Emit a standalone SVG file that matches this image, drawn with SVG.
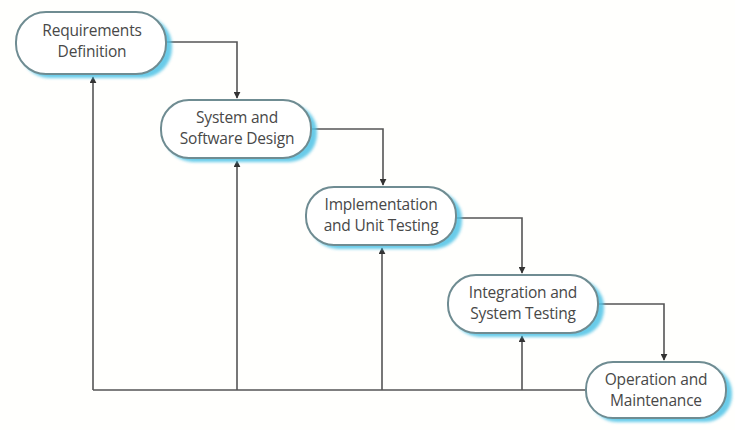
<svg xmlns="http://www.w3.org/2000/svg" width="735" height="430" viewBox="0 0 735 430">
<defs>
<style>
.box{fill:#ffffff;stroke:#6f8c92;stroke-width:2}
.shadow{fill:#4fc3e6;opacity:0.85}
.lbl{font-family:"Open Sans","Liberation Sans",sans-serif;font-size:15.5px;fill:#484848;text-anchor:middle;letter-spacing:-0.2px}
.ln{fill:none;stroke:#555;stroke-width:1.6}
</style>
<marker id="ah" viewBox="0 0 10 10" refX="9" refY="5" markerWidth="7" markerHeight="7" orient="auto" markerUnits="userSpaceOnUse">
<path d="M0,0 L10,5 L0,10 z" fill="#333"/>
</marker>
<filter id="blur" x="-10%" y="-20%" width="120%" height="140%"><feGaussianBlur stdDeviation="1.5"/></filter>
</defs>
<rect width="735" height="430" fill="#fffffd"/>
<g id="connectors">
<path class="ln" d="M166,42 H237 V98" marker-end="url(#ah)"/>
<path class="ln" d="M311,129 H383 V185" marker-end="url(#ah)"/>
<path class="ln" d="M456,218 H522 V273" marker-end="url(#ah)"/>
<path class="ln" d="M598,304 H664 V360" marker-end="url(#ah)"/>
<path class="ln" d="M586,390 H93"/>
<path class="ln" d="M93,390 V77" marker-end="url(#ah)"/>
<path class="ln" d="M237,390 V161" marker-end="url(#ah)"/>
<path class="ln" d="M382,390 V248" marker-end="url(#ah)"/>
<path class="ln" d="M522,390 V336" marker-end="url(#ah)"/>
</g>
<g id="n1">
<rect class="shadow" filter="url(#blur)" x="20" y="16" width="152" height="62" rx="30"/>
<rect class="box" x="16" y="12" width="150" height="62" rx="30"/>
<text class="lbl" x="92" y="36">Requirements</text>
<text class="lbl" x="92" y="57">Definition</text>
</g>
<g id="n2">
<rect class="shadow" filter="url(#blur)" x="165" y="104" width="152" height="58" rx="28"/>
<rect class="box" x="161" y="100" width="150" height="58" rx="28"/>
<text class="lbl" x="237" y="123">System and</text>
<text class="lbl" x="237" y="144">Software Design</text>
</g>
<g id="n3">
<rect class="shadow" filter="url(#blur)" x="310" y="191" width="152" height="58" rx="28"/>
<rect class="box" x="306" y="187" width="150" height="58" rx="28"/>
<text class="lbl" x="381" y="210">Implementation</text>
<text class="lbl" x="381" y="231">and Unit Testing</text>
</g>
<g id="n4">
<rect class="shadow" filter="url(#blur)" x="452" y="279" width="152" height="58" rx="28"/>
<rect class="box" x="448" y="275" width="150" height="58" rx="28"/>
<text class="lbl" x="523" y="298">Integration and</text>
<text class="lbl" x="523" y="319">System Testing</text>
</g>
<g id="n5">
<rect class="shadow" filter="url(#blur)" x="590" y="366" width="142" height="56" rx="27"/>
<rect class="box" x="586" y="362" width="140" height="56" rx="27"/>
<text class="lbl" x="656" y="385">Operation and</text>
<text class="lbl" x="656" y="406">Maintenance</text>
</g>
</svg>
